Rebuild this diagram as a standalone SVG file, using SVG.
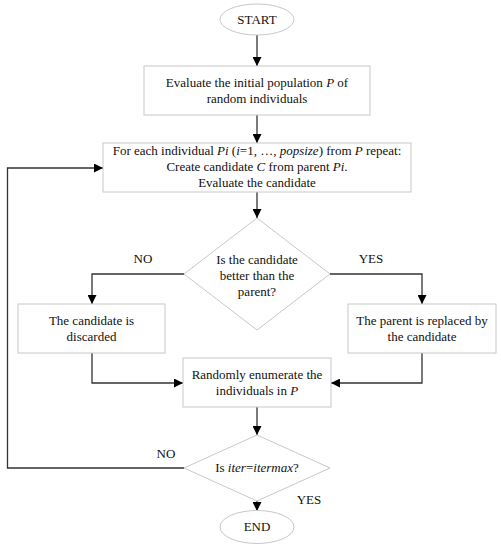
<svg xmlns="http://www.w3.org/2000/svg" width="501" height="550" viewBox="0 0 501 550">
<style>
.node{fill:#fff;stroke:#c8c8c8;stroke-width:1}
.t{font-family:"Liberation Serif","Times New Roman",serif;font-size:13px;fill:#111;text-anchor:middle}
.c{fill:none;stroke:#333;stroke-width:1.3}
</style>
<defs>
<marker id="ah" viewBox="0 0 10 10" refX="10" refY="5" markerWidth="9" markerHeight="9" markerUnits="userSpaceOnUse" orient="auto">
<path d="M0,0 L10,5 L0,10 z" fill="#000"/>
</marker>
</defs>
<rect width="501" height="550" fill="#fff"/>
<g id="connectors">
<path class="c" d="M257,35 V66" marker-end="url(#ah)"/>
<path class="c" d="M257,115 V143" marker-end="url(#ah)"/>
<path class="c" d="M257,192 V218" marker-end="url(#ah)"/>
<path class="c" d="M184,274 H92 V304" marker-end="url(#ah)"/>
<path class="c" d="M330,274 H422 V304" marker-end="url(#ah)"/>
<path class="c" d="M92,353 V383 H183" marker-end="url(#ah)"/>
<path class="c" d="M422,353 V383 H331" marker-end="url(#ah)"/>
<path class="c" d="M257,407 V435" marker-end="url(#ah)"/>
<path class="c" d="M184,468 H7.5 V168 H103" marker-end="url(#ah)"/>
<path class="c" d="M257,501 V511" marker-end="url(#ah)"/>
<text class="t" x="143" y="263">NO</text>
<text class="t" x="371" y="263">YES</text>
<text class="t" x="166" y="458">NO</text>
<text class="t" x="309" y="504">YES</text>
</g>
<g id="start">
<ellipse class="node" cx="257" cy="19.5" rx="37" ry="15.5"/>
<text class="t" x="257" y="24">START</text>
</g>
<g id="evaluate">
<rect class="node" x="144" y="66" width="226" height="49"/>
<text class="t" x="257" y="87">Evaluate the initial population <tspan font-style="italic">P</tspan> of</text>
<text class="t" x="257" y="103">random individuals</text>
</g>
<g id="foreach">
<rect class="node" x="103" y="143" width="308" height="49"/>
<text class="t" x="257" y="155">For each individual <tspan font-style="italic">Pi</tspan> (<tspan font-style="italic">i</tspan>=1, …, <tspan font-style="italic">popsize</tspan>) from <tspan font-style="italic">P</tspan> repeat:</text>
<text class="t" x="257" y="171">Create candidate <tspan font-style="italic">C</tspan> from parent <tspan font-style="italic">Pi</tspan>.</text>
<text class="t" x="257" y="187">Evaluate the candidate</text>
</g>
<g id="better">
<polygon class="node" points="257,218 330,274 257,330 184,274"/>
<text class="t" x="257" y="264">Is the candidate</text>
<text class="t" x="257" y="280">better than the</text>
<text class="t" x="257" y="296">parent?</text>
</g>
<g id="discarded">
<rect class="node" x="18" y="304" width="147" height="49"/>
<text class="t" x="91.5" y="325">The candidate is</text>
<text class="t" x="91.5" y="341">discarded</text>
</g>
<g id="replaced">
<rect class="node" x="348" y="304" width="148" height="49"/>
<text class="t" x="422" y="325">The parent is replaced by</text>
<text class="t" x="422" y="341">the candidate</text>
</g>
<g id="enumerate">
<rect class="node" x="183" y="358" width="148" height="49"/>
<text class="t" x="257" y="379">Randomly enumerate the</text>
<text class="t" x="257" y="395">individuals in <tspan font-style="italic">P</tspan></text>
</g>
<g id="iter">
<polygon class="node" points="257,435 330,468 257,501 184,468"/>
<text class="t" x="257" y="472">Is <tspan font-style="italic">iter</tspan>=<tspan font-style="italic">itermax</tspan>?</text>
</g>
<g id="end">
<ellipse class="node" cx="257" cy="527" rx="37" ry="16.5"/>
<text class="t" x="257" y="531">END</text>
</g>
</svg>
